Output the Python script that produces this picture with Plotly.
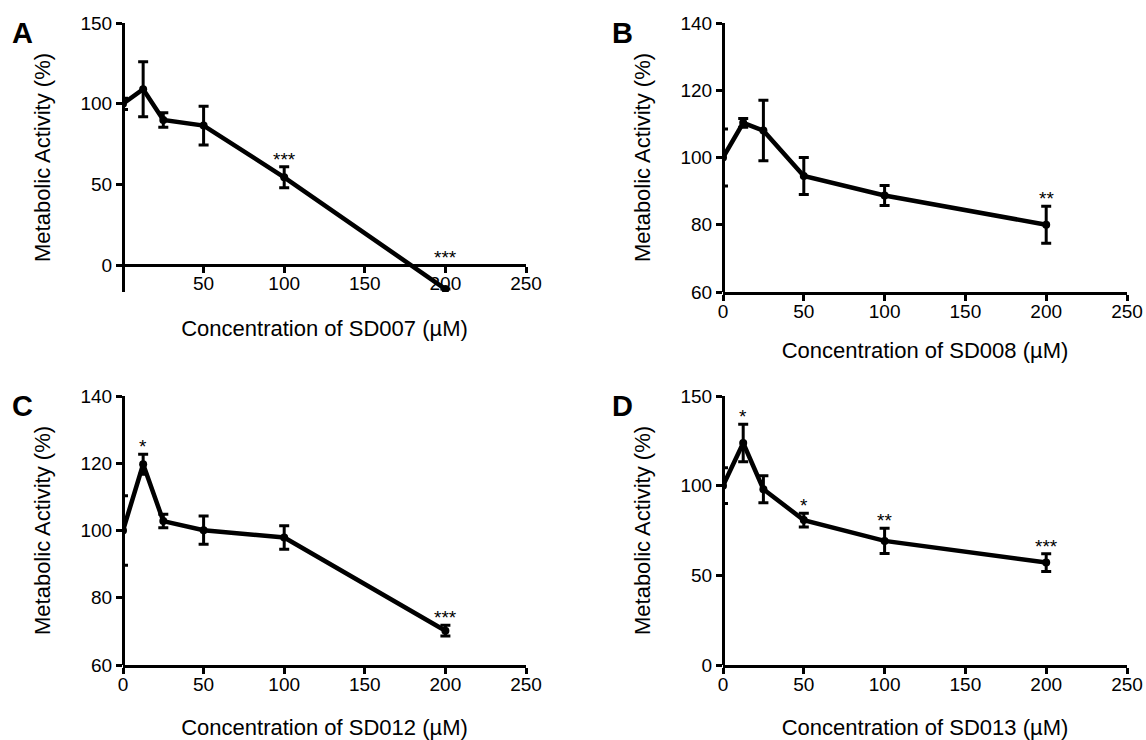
import plotly.graph_objects as go

# Concentrations tested (µM)
conc = [0, 12.5, 25, 50, 100, 200]

# Metabolic activity (% of control), mean and error for each compound
sd007_mean = [100, 109, 90, 86.5, 54.5, -14.7]
sd007_err = [3.5, 17, 4.5, 12, 6.5, 0]
sd007_sig = ["", "", "", "", "***", "***"]

sd008_mean = [100, 110.3, 108, 94.5, 88.7, 80]
sd008_err = [8.5, 1.3, 9, 5.5, 3, 5.5]
sd008_sig = ["", "", "", "", "", "**"]

sd012_mean = [100, 119.7, 102.8, 100.1, 97.9, 70.2]
sd012_err = [10.3, 3, 2, 4.2, 3.5, 1.6]
sd012_sig = ["", "*", "", "", "", "***"]

sd013_mean = [100, 123.8, 98, 80.8, 69.2, 57.1]
sd013_err = [10, 10.4, 7.5, 3.8, 7, 5]
sd013_sig = ["", "*", "", "*", "**", "***"]

compounds = ["SD007", "SD008", "SD012", "SD013"]
panel_letters = ["A", "B", "C", "D"]

W, H = 1146, 740
FONT = "Liberation Sans, Arial, Helvetica, sans-serif"


def px_x(a, b):
    return [a / W, b / W]


def px_y(top, bottom):
    return [1 - bottom / H, 1 - top / H]


panels = [
    dict(mean=sd007_mean, err=sd007_err, sig=sd007_sig, yrange=[-16.5, 150], dtick=50,
         xdom=px_x(123, 526), ydom=px_y(23, 292), cross=0, ticks0=False, xstand=27),
    dict(mean=sd008_mean, err=sd008_err, sig=sd008_sig, yrange=[60, 140], dtick=20,
         xdom=px_x(723, 1127), ydom=px_y(23, 292), cross=None, ticks0=True, xstand=22),
    dict(mean=sd012_mean, err=sd012_err, sig=sd012_sig, yrange=[60, 140], dtick=20,
         xdom=px_x(123, 526), ydom=px_y(396, 665), cross=None, ticks0=True, xstand=27),
    dict(mean=sd013_mean, err=sd013_err, sig=sd013_sig, yrange=[0, 150], dtick=50,
         xdom=px_x(723, 1127), ydom=px_y(396, 665), cross=None, ticks0=True, xstand=27),
]

fig = go.Figure()
annotations = []
axis_common = dict(
    showline=True, linewidth=3, linecolor="black", mirror=False,
    ticks="outside", ticklen=6, tickwidth=3, tickcolor="black",
    showgrid=False, zeroline=False, automargin=False,
    tickfont=dict(family=FONT, size=19, color="black"),
)

for i, p in enumerate(panels):
    n = i + 1
    xa = "x" if n == 1 else f"x{n}"
    ya = "y" if n == 1 else f"y{n}"
    fig.add_trace(go.Scatter(
        x=conc, y=p["mean"], xaxis=xa, yaxis=ya,
        mode="lines+markers",
        line=dict(color="black", width=4.5),
        marker=dict(color="black", size=8),
        error_y=dict(type="data", array=p["err"], visible=True,
                     color="black", thickness=3, width=5),
        showlegend=False, hoverinfo="skip",
    ))

    tickvals = [0, 50, 100, 150, 200, 250] if p["ticks0"] else [50, 100, 150, 200, 250]
    xaxis = dict(axis_common, domain=p["xdom"], range=[0, 250],
                 tickmode="array", tickvals=tickvals, ticklabelstandoff=-6,
                 title=dict(text=f"Concentration of {compounds[i]} (µM)",
                            font=dict(family=FONT, size=22, color="black"),
                            standoff=p["xstand"]))
    y0, y1 = p["ydom"]
    lo, hi = p["yrange"]
    if p["cross"] is not None:
        # x axis crosses the y axis at y = 0
        xaxis.update(anchor="free",
                     position=y0 + (p["cross"] - lo) / (hi - lo) * (y1 - y0))
    else:
        xaxis.update(anchor=ya)
    # y axis line centred on x = 0
    yaxis = dict(axis_common, domain=p["ydom"], range=p["yrange"],
                 tickmode="linear", tick0=0, dtick=p["dtick"],
                 anchor="free", position=p["xdom"][0],
                 title=dict(text="Metabolic Activity (%)",
                            font=dict(family=FONT, size=22, color="black"),
                            standoff=22))
    fig.layout[("xaxis" if n == 1 else f"xaxis{n}")] = xaxis
    fig.layout[("yaxis" if n == 1 else f"yaxis{n}")] = yaxis

    # significance marks above the error bars (or above the baseline)
    base = p["cross"] if p["cross"] is not None else lo
    for c, m, e, s in zip(conc, p["mean"], p["err"], p["sig"]):
        if s:
            annotations.append(dict(
                x=c, y=max(m + e, base), xref=xa, yref=ya, text=s,
                showarrow=False, xanchor="center", yanchor="bottom", yshift=-5,
                font=dict(family=FONT, size=19, color="black"),
            ))

    # panel letter
    annotations.append(dict(
        x=(p["xdom"][0] * W - 100.5) / W, y=y1 - 9.5 / H,
        xref="paper", yref="paper", text=f"<b>{panel_letters[i]}</b>",
        showarrow=False, xanchor="center", yanchor="middle",
        font=dict(family=FONT, size=29, color="black"),
    ))

fig.update_layout(
    width=W, height=H,
    margin=dict(l=0, r=0, t=0, b=0),
    paper_bgcolor="white", plot_bgcolor="white",
    annotations=annotations,
)

fig.write_html("out.html")
